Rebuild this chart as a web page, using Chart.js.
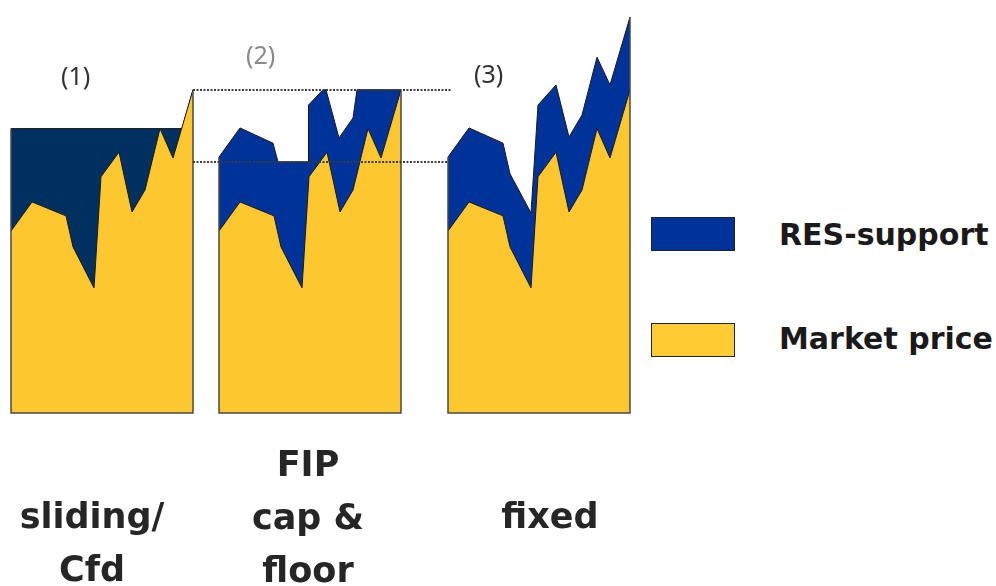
<!DOCTYPE html>
<html>
<head>
<meta charset="utf-8">
<script src="https://cdn.jsdelivr.net/npm/chart.js@4.4.1/dist/chart.umd.min.js"></script>
<style>
  body { margin: 0; background: #fff; }
  #wrap { position: relative; width: 996px; height: 586px; overflow: hidden; background: #fff; }
  canvas { position: absolute; top: 0; }
  .title { position: absolute; font-family: "Noto Sans", sans-serif; font-size: 25px; color: #333; }
  .label { position: absolute; font-family: "DejaVu Sans", sans-serif; font-weight: bold; font-size: 35px;
           color: #262626; text-align: center; line-height: 53px; }
  .leg-box { position: absolute; width: 82px; height: 32px; border: 1.5px solid #222; }
  .leg-text { position: absolute; font-family: "DejaVu Sans", sans-serif; font-weight: bold; font-size: 30px; color: #1a1a1a; }
</style>
</head>
<body>
<div id="wrap">
  <canvas id="panel-1" width="200" height="586" style="left:0px"></canvas>
  <canvas id="panel-2" width="259" height="586" style="left:193px"></canvas>
  <canvas id="panel-3" width="200" height="586" style="left:440px"></canvas>

  <div class="title" style="left:61px; top:58px;">(1)</div>
  <div class="title" style="left:246px; top:37px; color:#8a8a8a;">(2)</div>
  <div class="title" style="left:474px; top:56px;">(3)</div>

  <div class="label" style="left:-3px; top:490px; width:190px;">sliding/<br>Cfd</div>
  <div class="label" style="left:208px; top:438px; width:200px;">FIP<br>cap &amp;<br>floor</div>
  <div class="label" style="left:450px; top:490px; width:200px;">fixed</div>

  <div class="leg-box" style="left:651px; top:217px; background:#003399;"></div>
  <div class="leg-text" style="left:779px; top:217px;">RES-support</div>
  <div class="leg-box" style="left:651px; top:323px; background:#ffcc33;"></div>
  <div class="leg-text" style="left:779px; top:321px;">Market price</div>
</div>
<script>
// time steps (same for every scheme) and the market price
var times = [0, 21, 55, 62, 83, 90, 108, 121, 134, 149, 162, 182];
var marketPrice = [56.3, 65.3, 61, 51.4, 38.7, 73.1, 80.7, 62.2, 69, 88, 78.9, 100];

// (1) sliding premium / CfD : upper edge = strike price
var slidingTimes = [0, 171, 182];
var slidingTotal = [88, 88, 100];

// (2) FIP with cap & floor : upper edge
var capFloorTimes = [0, 21, 54, 59, 89, 89.5, 104, 107, 120, 134, 138, 182];
var capFloorTotal = [79.2, 88.2, 83.5, 77.7, 77.7, 95.3, 100, 100, 85.1, 91.3, 100, 100];
var capLevel = 100;
var floorLevel = 77.7;

// (3) fixed premium : upper edge
var fixedTotal = [79.2, 88.2, 83.5, 74, 61.9, 95.3, 101.5, 85.4, 92.2, 110.1, 101.5, 122.5];

var yellow = "#fdc82f";

function toPoints(xs, ys) {
    return xs.map(function (x, i) { return { x: x, y: ys[i] }; });
}

// dark edges left / right / bottom of each block
var edgePlugin = {
    id: "edges",
    afterDatasetsDraw: function (chart) {
        var ctx = chart.ctx;
        var xs = chart.scales.x, ys = chart.scales.y;
        var top = chart.data.datasets[1].data;
        var y0 = ys.getPixelForValue(0);
        var xl = xs.getPixelForValue(0), xr = xs.getPixelForValue(182);
        ctx.save();
        ctx.strokeStyle = "#4a4a4a";
        ctx.lineWidth = 1.5;
        ctx.beginPath();
        ctx.moveTo(xl, ys.getPixelForValue(top[0].y));
        ctx.lineTo(xl, y0);
        ctx.lineTo(xr, y0);
        ctx.lineTo(xr, ys.getPixelForValue(top[top.length - 1].y));
        ctx.stroke();
        ctx.restore();
    }
};

// dotted cap and floor lines across the gap
var capFloorPlugin = {
    id: "capFloor",
    afterDatasetsDraw: function (chart) {
        var ctx = chart.ctx;
        var ys = chart.scales.y;
        ctx.save();
        ctx.strokeStyle = "#3a3a3a";
        ctx.lineWidth = 2;
        ctx.setLineDash([2, 1.5]);
        [capLevel, floorLevel].forEach(function (v) {
            var py = Math.round(ys.getPixelForValue(v));
            ctx.beginPath();
            ctx.moveTo(0, py);
            ctx.lineTo(chart.width, py);
            ctx.stroke();
        });
        ctx.restore();
    }
};

function makeConfig(upperPoints, blue, padL, padR, extra) {
    return {
        type: "line",
        data: {
            datasets: [{
                label: "Market price",
                data: toPoints(times, marketPrice),
                backgroundColor: yellow,
                borderColor: "#1a1a1a",
                borderWidth: 1,
                fill: "origin",
                pointRadius: 0,
                tension: 0
            }, {
                label: "RES-support",
                data: upperPoints,
                backgroundColor: blue,
                borderColor: "#1a1a1a",
                borderWidth: 1,
                fill: "origin",
                pointRadius: 0,
                tension: 0
            }]
        },
        options: {
            responsive: false,
            animation: false,
            events: [],
            layout: { padding: { left: padL, right: padR, top: 9, bottom: 173 } },
            scales: {
                x: { type: "linear", min: 0, max: 182, display: false },
                y: { min: 0, max: 125, display: false }
            },
            plugins: { legend: { display: false }, tooltip: { enabled: false } }
        },
        plugins: [edgePlugin].concat(extra || [])
    };
}

var chart1 = new Chart(document.getElementById("panel-1"),
    makeConfig(toPoints(slidingTimes, slidingTotal), "#00305f", 11, 7));
var chart2 = new Chart(document.getElementById("panel-2"),
    makeConfig(toPoints(capFloorTimes, capFloorTotal), "#003399", 26, 51, [capFloorPlugin]));
var chart3 = new Chart(document.getElementById("panel-3"),
    makeConfig(toPoints(times, fixedTotal), "#003399", 8, 10));
</script>
</body>
</html>
